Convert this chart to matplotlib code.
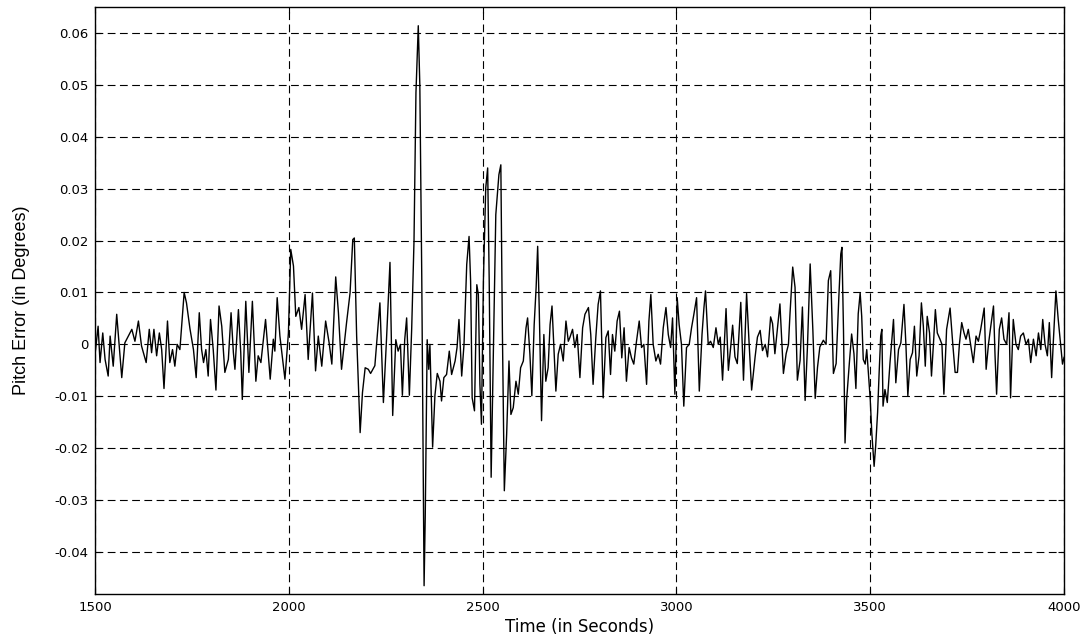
import matplotlib
matplotlib.use("Agg")
import matplotlib.pyplot as plt
import numpy as np

# ---- data (time in s, pitch error in milli-degrees) ----
t_a = [1500,1508,1513,1520,1526,1534,1539,1547,1556,1569,1577,1586,1595,1603,1612,1620,1632,1640,1646,1652,
       1659,1666,1672,1678,1687,1693,1700,1706,1712,1719,1730,1736,1745,1754,1761,1769,1775,1780,1786,1792,
       1798,1805,1812,1820,1827,1835]
e_a = [-2.0,3.5,-3.5,2.2,-2.9,-6.1,1.6,-4.2,5.8,-6.4,0.3,1.6,2.9,0.6,4.5,-0.3,-3.5,2.9,-1.6,2.9,
       -2.2,2.2,-1.0,-8.5,4.5,-3.5,-1.0,-4.2,0.0,-1.0,10.0,8.0,3.0,-1.0,-6.4,6.1,-1.0,-3.5,-1.0,-6.1,
       4.8,-1.0,-8.8,7.4,3.5,-5.4]

t_b = [1844,1851,1857,1861,1870,1876,1880,1889,1897,1906,1915,1921,1928,1940,1952,1960,1964,1970,1977,1990,
       1999,2005,2012,2018,2026,2033,2042,2050,2061,2069,2076,2085,2095,2104,2111,2121,2128,2136,2149,2158,
       2165,2169,2175,2184,2190,2197]
e_b = [-2.9,6.1,-1.6,-4.8,6.7,-1.6,-10.6,8.3,-5.4,8.3,-7.1,-2.2,-3.5,4.8,-6.7,1.0,-1.3,9.0,1.6,-6.7,
       2.2,18.3,15.1,5.4,7.1,2.9,9.6,-2.9,9.9,-5.1,1.6,-4.2,4.5,0.3,-3.8,13.0,6.1,-4.8,4.2,9.9,
       20.2,20.5,1.6,-17.0,-9.3,-4.5]

t_c = [2205,2211,2222,2235,2244,2252,2261,2268,2276,2282,2288,2293,2299,2304,2311,2317,2323,2328,2334,2338,
       2343,2349,2352,2357,2361,2364,2371,2377,2383]
e_c = [-4.8,-5.6,-4.1,8.0,-11.2,0.9,15.8,-13.7,0.9,-1.3,0.0,-9.8,0.9,5.1,-9.8,3.0,20.0,48.5,61.4,50.0,
       13.0,-46.5,-33.0,0.9,-4.8,0.0,-19.8,-9.8,-5.6]

t_d = [2390,2394,2400,2407,2414,2420,2429,2434,2439,2446,2452,2459,2465,2469,2473,2479,2485,2489,2493,2497,
       2502,2508,2513,2517,2522,2528,2534,2542,2547,2551,2556,2562,2568,2573,2579,2586,2592,2598,2605,2612,
       2616,2622,2627,2633,2638,2642,2646,2652,2658,2663,2669,2674,2679,2684,2689,2695,2701,2708,2715,2721,
       2725,2732,2738,2744,2751,2758,2764,2773]
e_d = [-7.1,-10.9,-6.4,-5.8,-1.3,-5.8,-3.2,-0.6,4.8,-6.1,0.0,15.4,20.8,12.2,-10.3,-12.8,11.5,9.6,-7.7,-15.4,
       12.2,30.1,34.0,12.2,-25.6,-0.6,25.0,32.7,34.6,2.6,-28.2,-17.3,-3.2,-13.5,-12.2,-7.1,-9.6,-4.5,-3.2,3.2,
       5.1,-1.9,-9.9,3.8,10.9,18.9,7.1,-14.7,1.9,-7.1,-4.5,3.8,7.4,-0.6,-9.0,-1.9,0.0,-3.2,4.5,0.6,
       1.3,2.9,-0.6,1.9,-6.4,3.2,5.8,7.1]

t_e = [2779,2785,2792,2798,2804,2811,2818,2824,2830,2835,2841,2847,2853,2859,2865,2871,2878,2884,2890,2897,
       2904,2910,2916,2923,2929,2934,2940,2947,2953,2959,2966,2973,2979,2985,2990,2996,3002,3007,3013,3019,
       3026,3033,3039,3045,3052,3059,3066,3071,3075,3082,3088,3095,3102,3108]
e_e = [1.9,-7.7,1.3,7.7,10.3,-10.3,1.3,2.6,-5.8,1.9,-1.3,4.5,6.4,-2.6,3.2,-7.1,-0.6,-2.6,-3.8,0.6,
       4.5,-0.6,0.0,-7.7,4.5,9.6,0.0,-3.2,-1.9,-3.8,3.2,7.1,1.9,-0.6,5.1,-9.6,9.0,3.8,0.0,-11.9,
       -0.6,0.0,3.2,5.8,9.0,-9.0,1.9,7.1,10.3,0.0,0.6,-0.6,3.2,0.0]

t_f = [3113,3119,3128,3134,3140,3145,3151,3157,3166,3173,3181,3188,3194,3203,3209,3216,3222,3229,3235,3243,
       3248,3254,3260,3267,3276,3283,3289,3293,3300,3306,3312,3319,3325,3332,3338,3345,3352,3358,3364,3370,
       3379,3386,3392,3398,3405,3412,3419,3424,3427,3431,3435,3439,3446,3452,3458,3463,3469]
e_f = [1.4,-6.9,6.9,-5.0,-0.5,3.7,-2.4,-3.7,8.1,-6.9,9.8,-0.5,-8.8,-2.4,1.4,2.7,-1.2,0.0,-2.4,5.3,
       4.0,-1.8,2.7,7.8,-5.6,-1.8,0.0,5.9,14.9,11.0,-6.9,-3.1,7.2,-10.8,-0.5,15.5,2.7,-10.4,-4.4,-0.5,
       0.8,0.0,12.3,14.2,-5.6,-3.7,9.1,17.4,18.7,2.7,-19.0,-10.8,-3.7,2.0,-1.8,-8.5,5.9]

t_g = [3474,3478,3482,3487,3491,3495,3500,3504,3510,3514,3519,3523,3527,3530,3533,3538,3544,3551,3560,3566,
       3573,3579,3587,3592,3597,3603,3609,3614,3620,3626,3632,3637,3642,3647,3653,3658,3663,3668,3673,3680,
       3685,3690,3697,3706,3713,3719,3725,3730,3736,3742,3747,3753,3759,3766,3773,3779,3785,3794,3799,3805,
       3811,3818,3822,3826,3833,3839,3845,3852,3858,3862,3869,3876,3882,3888,3895,3902,3908,3914,3921,3928,
       3934,3940,3945,3951,3957,3962,3968,3972,3979,3985,3991,3996,4000]
e_g = [9.9,5.4,-2.9,-3.8,-1.0,-5.4,-10.6,-17.0,-23.5,-19.6,-13.1,-5.4,1.6,2.9,-11.9,-8.7,-11.2,-3.5,4.8,-7.4,
       -1.0,0.3,7.7,0.0,-9.9,-2.9,-1.6,3.5,-6.1,-2.2,8.0,3.5,-4.2,5.4,2.2,-6.1,0.0,6.7,2.2,1.0,
       0.0,-9.6,2.9,7.0,0.0,-5.4,-5.4,0.0,4.2,2.2,1.0,2.9,0.0,-3.5,1.6,0.6,2.9,7.0,-4.8,0.0,
       3.5,7.4,-2.2,-9.6,2.9,5.1,1.0,0.0,6.1,-10.3,4.8,0.0,-1.0,1.6,2.2,0.0,1.0,-3.5,1.0,-2.2,
       2.2,-1.0,4.8,0.0,-2.2,4.2,-6.4,0.0,10.3,4.8,0.0,-3.8,-2.5]

x_ticks = [1500, 2000, 2500, 3000, 3500, 4000]
y_ticks = [-0.04, -0.03, -0.02, -0.01, 0.0, 0.01, 0.02, 0.03, 0.04, 0.05, 0.06]
y_tick_labels = ["-0.04", "-0.03", "-0.02", "-0.01", "0", "0.01", "0.02", "0.03", "0.04", "0.05", "0.06"]

time_s = np.array(t_a + t_b + t_c + t_d + t_e + t_f + t_g, dtype=float)
pitch_err = np.array(e_a + e_b + e_c + e_d + e_e + e_f + e_g) / 1000.0

plt.rcParams['font.family'] = ['DejaVu Sans']

fig = plt.figure(figsize=(10.92, 6.41), dpi=100)
ax = fig.add_axes([0.087, 0.0733, 0.8874, 0.9157])

ax.plot(time_s, pitch_err, color='black', linewidth=1.0)

ax.set_xlim(1500, 4000)
ax.set_ylim(-0.0481, 0.065)
ax.set_xticks(x_ticks)
ax.set_xticklabels([str(v) for v in x_ticks])
ax.set_yticks(y_ticks)
ax.set_yticklabels(y_tick_labels)

ax.grid(True, color='black', linestyle=(0, (7, 4)), linewidth=0.8)
ax.tick_params(direction='in', length=4, width=0.8, labelsize=9.5, top=True, right=True, pad=5)
for sp in ax.spines.values():
    sp.set_linewidth(1.0)
    sp.set_color('black')

ax.set_xlabel("Time (in Seconds)", fontsize=12, labelpad=3)
ax.set_ylabel("Pitch Error (in Degrees)", fontsize=13, labelpad=17,
              family=['Liberation Sans', 'DejaVu Sans'])

fig.savefig("out.png", dpi=100, facecolor='white')
